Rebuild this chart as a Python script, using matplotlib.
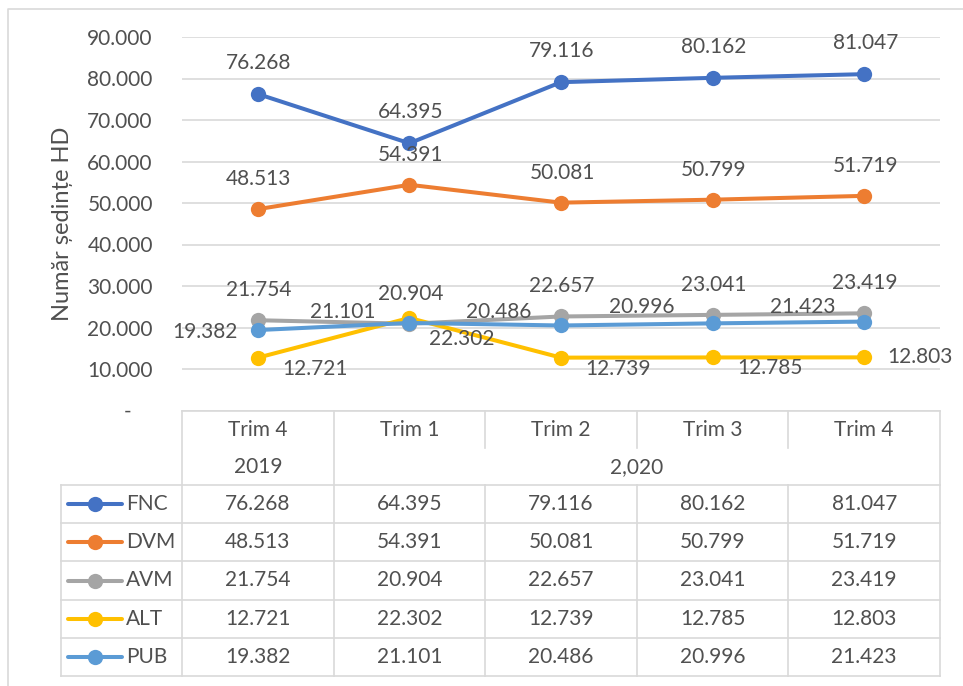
import matplotlib
matplotlib.use("Agg")
import matplotlib.pyplot as plt
from matplotlib.ticker import FuncFormatter

# ---------------- data ----------------
quarters = ["Trim 4", "Trim 1", "Trim 2", "Trim 3", "Trim 4"]
years = ["2019", "2,020"]
series_names = ["FNC", "DVM", "AVM", "ALT", "PUB"]
fnc = [76268, 64395, 79116, 80162, 81047]
dvm = [48513, 54391, 50081, 50799, 51719]
avm = [21754, 20904, 22657, 23041, 23419]
alt = [12721, 22302, 12739, 12785, 12803]
pub = [19382, 21101, 20486, 20996, 21423]
y_label = "Număr ședințe HD"

series = [fnc, dvm, avm, alt, pub]
colors = ["#4472C4", "#ED7D31", "#A5A5A5", "#FFC000", "#5B9BD5"]
# label offsets in pixels (dx, dy up-positive)
label_offsets = [
    [(1, 31)] * 5,
    [(1, 30)] * 5,
    [(1, 30)] * 5,
    [(57, -11), (52, -21), (57, -11), (57, -11), (56, 0)],
    [(-53, -2), (-67, 11), (-62, 13), (-71, 16), (-61, 15)],
]

W, H = 963, 686
TXT = "#505050"
GRID = "#D9D9D9"
FS = 15
FAM = ["Lato", "DejaVu Sans"]
plt.rcParams["font.family"] = FAM


def fmt(v):
    return f"{int(v):,}".replace(",", ".")


fig = plt.figure(figsize=(W / 100, H / 100), dpi=100)
fig.patch.set_facecolor("white")

left, right, top, zero = 182, 940, 37, 410.5
ax = fig.add_axes([left / W, 1 - zero / H, (right - left) / W, (zero - top) / H])
n = len(quarters)
ax.set_xlim(-0.5, n - 0.5)
ax.set_ylim(0, 90000)
for s in ax.spines.values():
    s.set_visible(False)
ax.set_xticks([])
ax.set_yticks(range(0, 90001, 10000))
ax.yaxis.set_major_formatter(FuncFormatter(lambda v, p: "-    " if v == 0 else fmt(v)))
ax.tick_params(axis="y", length=0, pad=21, labelsize=FS, labelcolor=TXT)
ax.grid(axis="y", color=GRID, linewidth=1.2)
ax.set_axisbelow(True)
ax.set_ylabel(y_label, fontsize=17, color=TXT, labelpad=10)
ax.patch.set_alpha(0)

xs = list(range(n))
for vals, c in zip(series, colors):
    ax.plot(xs, vals, color=c, linewidth=2.9, marker="o", markersize=11,
            markeredgewidth=0, solid_capstyle="round", zorder=3)
for vals, offs in zip(series, label_offsets):
    for x, v, (dx, dy) in zip(xs, vals, offs):
        ax.annotate(fmt(v), (x, v), xytext=(dx, dy), textcoords="offset pixels",
                    ha="center", va="center", fontsize=FS, color=TXT,
                    annotation_clip=False, zorder=4)

# ---------------- overlay for table and border ----------------
ov = fig.add_axes([0, 0, 1, 1])
ov.set_xlim(0, W)
ov.set_ylim(H, 0)
ov.axis("off")
ov.patch.set_alpha(0)

lw = 1.2
# outer chart border
ov.plot([8, 8, W + 5], [H + 5, 9, 9], color=GRID, linewidth=lw)

col_w = (right - left) / n
cols = [left + i * col_w for i in range(n + 1)]
t_top, t_mid, t_hdr = 411, 448, 485
row_h = (676 - t_hdr) / len(series_names)
rows = [t_hdr + i * row_h for i in range(len(series_names) + 1)]
leg_left = 61

# horizontal lines
ov.plot([left, right], [t_top, t_top], color=GRID, lw=lw)
for r in rows:
    ov.plot([leg_left, right], [r, r], color=GRID, lw=lw)
# vertical lines
ov.plot([leg_left, leg_left], [t_hdr, rows[-1]], color=GRID, lw=lw)
ov.plot([left, left], [t_top, rows[-1]], color=GRID, lw=lw)
ov.plot([cols[1], cols[1]], [t_top, rows[-1]], color=GRID, lw=lw)
for cx in cols[2:-1]:
    ov.plot([cx, cx], [t_top, t_mid], color=GRID, lw=lw)
    ov.plot([cx, cx], [t_hdr, rows[-1]], color=GRID, lw=lw)
ov.plot([right, right], [t_top, rows[-1]], color=GRID, lw=lw)

# header text
for i, q in enumerate(quarters):
    ov.text(cols[i] + col_w / 2, 430, q, ha="center", va="center", fontsize=FS, color=TXT)
ov.text(cols[0] + col_w / 2, 467, years[0], ha="center", va="center", fontsize=FS, color=TXT)
ov.text((cols[1] + cols[-1]) / 2, 467, years[1], ha="center", va="center", fontsize=FS, color=TXT)

# rows
for j, (name, vals, c) in enumerate(zip(series_names, series, colors)):
    cy = rows[j] + row_h / 2
    ov.plot([68, 122], [cy, cy], color=c, lw=2.9, solid_capstyle="round")
    ov.plot([95], [cy], marker="o", markersize=11, color=c, markeredgewidth=0)
    ov.text(126, cy, name, ha="left", va="center", fontsize=FS, color=TXT)
    for i, v in enumerate(vals):
        ov.text(cols[i] + col_w / 2, cy, fmt(v), ha="center", va="center", fontsize=FS, color=TXT)

fig.savefig("out.png", dpi=100, facecolor="white")
